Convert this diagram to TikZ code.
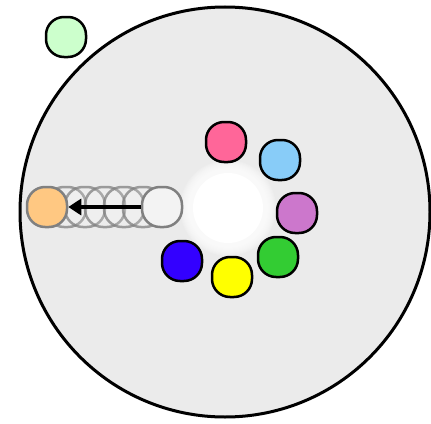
\documentclass[tikz,border=0pt]{standalone}
\usetikzlibrary{arrows.meta}
\definecolor{bgc}{HTML}{EBEBEB}
\definecolor{cpink}{HTML}{FF6699}
\definecolor{cblue}{HTML}{88CCF8}
\definecolor{cpurple}{HTML}{CC77CC}
\definecolor{cgreen}{HTML}{33CC33}
\definecolor{cyellow}{HTML}{FFFF00}
\definecolor{cdblue}{HTML}{3300FF}
\definecolor{corange}{HTML}{FFC882}
\definecolor{clgreen}{HTML}{CCFFCC}
\definecolor{cghost}{HTML}{808080}
\tikzset{
  token/.style={rectangle, rounded corners=18pt, minimum size=40pt, inner sep=0pt, draw=black, line width=2.5pt},
  ghost/.style={rectangle, rounded corners=18pt, minimum size=40pt, inner sep=0pt, draw=cghost, line width=2.5pt, draw opacity=0.75, fill=white, fill opacity=0.15}
}
\begin{document}
\begin{tikzpicture}[x=1pt,y=-1pt]
\useasboundingbox (0,0) rectangle (431,423);
\draw[fill=bgc, line width=3pt] (225,212) circle (205);
\foreach \r in {48,47,...,35} {\fill[white, opacity=0.16] (228,208) circle (\r);}
\fill[white] (228,208) circle (35);
% ghosts
\node[ghost] (g1) at (66,207) {};
\node[ghost] (g2) at (85,207) {};
\node[ghost] (g3) at (105,207) {};
\node[ghost] (g4) at (124,207) {};
\node[ghost] (g5) at (143,207) {};
\node[token, draw=cghost, fill=bgc!60!white] (w) at (162,207) {};
\node[token, draw=cghost, fill=corange] (o) at (47,207) {};
\draw[line width=3.5pt, -{Triangle[length=13pt,width=16pt]}] (w.west) -- (o.east);
% ring
\node[token, fill=cpink] (pk) at (226,142) {};
\node[token, fill=cblue] (lb) at (280,160) {};
\node[token, fill=cpurple] (pu) at (297,213) {};
\node[token, fill=cgreen] (gr) at (278,257) {};
\node[token, fill=cyellow] (ye) at (232,277) {};
\node[token, fill=cdblue] (bl) at (182,261) {};
\node[token, fill=clgreen] (lg) at (66,37) {};
\end{tikzpicture}
\end{document}
